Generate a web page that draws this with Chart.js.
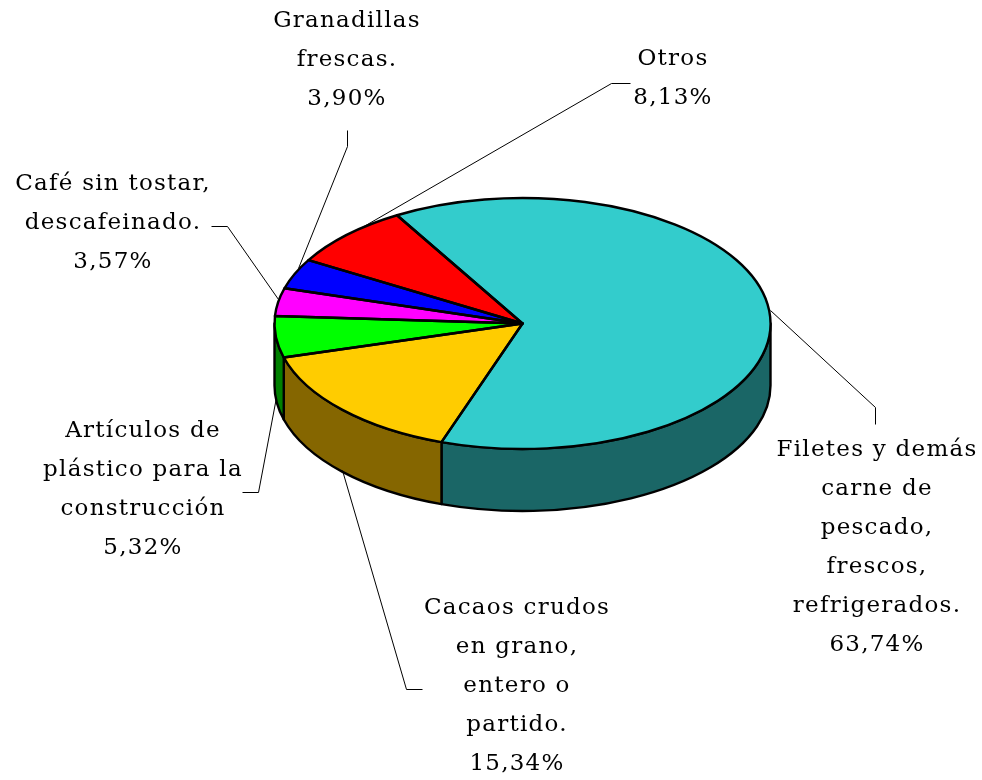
<!DOCTYPE html>
<html lang="es">
<head>
<meta charset="utf-8">
<title>Exportaciones</title>
<script src="https://cdn.jsdelivr.net/npm/chart.js@4/dist/chart.umd.js"></script>
<style>html,body{margin:0;padding:0;background:#fff}canvas{display:block}</style>
</head>
<body>
<canvas id="c" width="982" height="780"></canvas>
<script>
const categories = [
  "Filetes y demás carne de pescado, frescos, refrigerados.",
  "Cacaos crudos en grano, entero o partido.",
  "Artículos de plástico para la construcción",
  "Café sin tostar, descafeinado.",
  "Granadillas frescas.",
  "Otros"
];
const values = [63.74, 15.34, 5.32, 3.57, 3.90, 8.13];
const valueLabels = ["63,74%", "15,34%", "5,32%", "3,57%", "3,90%", "8,13%"];
const labelLines = [
  ["Filetes y demás", "carne de", "pescado,", "frescos,", "refrigerados."],
  ["Cacaos crudos", "en grano,", "entero o", "partido."],
  ["Artículos de", "plástico para la", "construcción"],
  ["Café sin tostar,", "descafeinado."],
  ["Granadillas", "frescas."],
  ["Otros"]
];
const topColors = ["#33CCCC", "#FFCC00", "#00FF00", "#FF00FF", "#0000FF", "#FF0000"];
const sideColors = ["#1A6666", "#856600", "#008000", "#800080", "#000080", "#800000"];

// layout (not data)
const SQUASH = 0.506, DEPTH = 62, EDGE = 2.4, LINE_H = 39;
const FONT = '23px "DejaVu Serif"';
const labelBoxes = [
  {cx: 877, y: 450.5}, {cx: 517, y: 608.5}, {cx: 143, y: 431.5},
  {cx: 113, y: 184.5}, {cx: 347, y: 21.5}, {cx: 673, y: 59.5}
];
const leaders = [
  [[770,310],[875,407],[875,424]],
  [[342,470],[406,689],[422,689]],
  [[276,397],[258,492],[242,492]],
  [[278,299],[227,226],[211,226]],
  [[298,268],[347,146],[347,130]],
  [[360,228],[611,83],[630,83]]
];

const pie3d = {
  id: 'pie3d',
  beforeDatasetsDraw(chart) {
    const ctx = chart.ctx, arcs = chart.getDatasetMeta(0).data;
    const {x, y, outerRadius: r} = arcs[0];
    const ry = r * SQUASH;
    ctx.save();
    ctx.lineWidth = EDGE; ctx.lineJoin = 'round'; ctx.strokeStyle = '#000';
    arcs.forEach((a, i) => {
      for (const shift of [-2*Math.PI, 0, 2*Math.PI]) {
        const s = Math.max(a.startAngle + shift, 0), e = Math.min(a.endAngle + shift, Math.PI);
        if (e <= s) continue;
        ctx.beginPath();
        ctx.ellipse(x, y, r, ry, 0, s, e);
        ctx.lineTo(x + r*Math.cos(e), y + ry*Math.sin(e) + DEPTH);
        ctx.ellipse(x, y + DEPTH, r, ry, 0, e, s, true);
        ctx.closePath();
        ctx.fillStyle = sideColors[i];
        ctx.fill(); ctx.stroke();
      }
    });
    ctx.restore();
    ctx.save();
    ctx.translate(x, y); ctx.scale(1, SQUASH); ctx.translate(-x, -y);
  },
  afterDatasetsDraw(chart) {
    const ctx = chart.ctx, arcs = chart.getDatasetMeta(0).data;
    ctx.restore();
    ctx.save();
    ctx.lineWidth = EDGE; ctx.lineJoin = 'round'; ctx.strokeStyle = '#000';
    arcs.forEach(a => {
      const ry = a.outerRadius * SQUASH;
      ctx.beginPath();
      ctx.moveTo(a.x, a.y);
      ctx.ellipse(a.x, a.y, a.outerRadius, ry, 0, a.startAngle, a.endAngle);
      ctx.closePath();
      ctx.stroke();
    });
    ctx.save();
    ctx.translate(0.5, 0.5);
    ctx.lineWidth = 1; ctx.lineJoin = 'miter';
    leaders.forEach(pts => {
      ctx.beginPath();
      pts.forEach((p, i) => i ? ctx.lineTo(p[0], p[1]) : ctx.moveTo(p[0], p[1]));
      ctx.stroke();
    });
    ctx.restore();
    ctx.font = FONT; ctx.letterSpacing = '1.25px';
    ctx.fillStyle = '#000'; ctx.textAlign = 'center'; ctx.textBaseline = 'middle';
    labelBoxes.forEach((b, i) => {
      [...labelLines[i], valueLabels[i]].forEach((t, k) => ctx.fillText(t, b.cx, b.y + k*LINE_H));
    });
    ctx.restore();
  }
};

new Chart(document.getElementById('c'), {
  type: 'pie',
  data: {
    labels: categories,
    datasets: [{ data: values, backgroundColor: topColors, borderWidth: 0, hoverOffset: 0, clip: false }]
  },
  options: {
    responsive: false,
    animation: false,
    rotation: -30.4,
    layout: { padding: { left: 274.5, right: 211.5, top: 75.5, bottom: 208.5 } },
    plugins: { legend: { display: false }, tooltip: { enabled: false } }
  },
  plugins: [pie3d]
});
</script>
</body>
</html>
